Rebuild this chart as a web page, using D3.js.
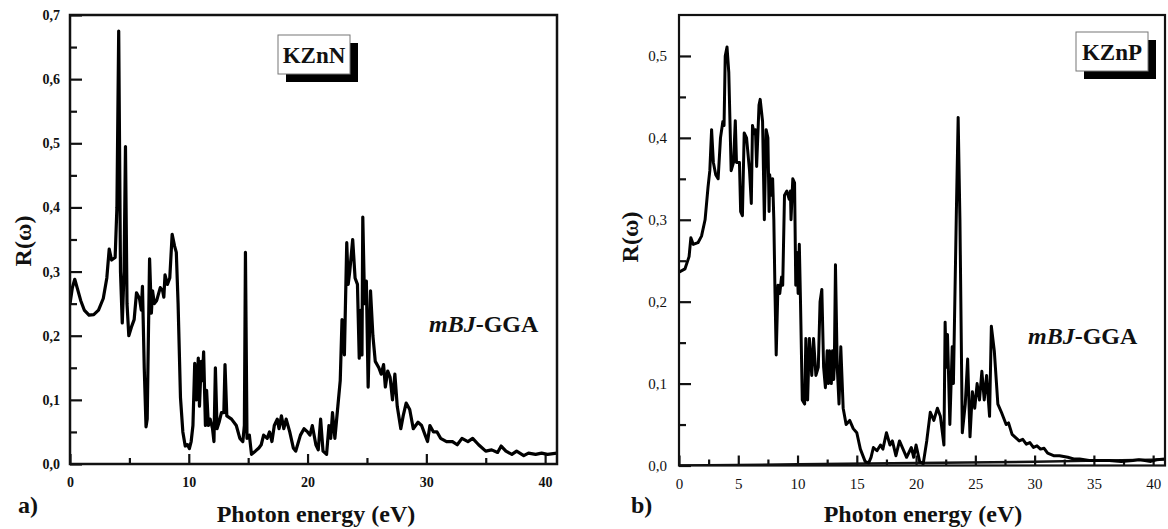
<!DOCTYPE html>
<html lang="en">
  <head>
    <meta charset="utf-8">
    <title>Reflectivity KZnN / KZnP</title>
    <script src="https://d3js.org/d3.v7.js"></script>
    <style>
      body { margin: 0; background: #fff; }
      svg text { font-family: "Liberation Serif", "Times New Roman", serif; fill: #111; }
    </style>
  </head>
  <body>
    <script>

  // ---- data ----
  // a) KZnN, mBJ-GGA
  var kznnE = [0,0.2,0.4,0.6,0.9,1.2,1.6,2.0,2.4,2.8,3.1,3.3,3.5,3.8,3.95,4.1,4.25,4.4,4.55,4.67,4.8,4.95,5.2,5.4,5.6,5.85,6.0,6.1,6.25,6.4,6.5,6.6,6.7,6.85,6.95,7.1,7.3,7.6,7.8,7.9,8.0,8.2,8.4,8.6,8.8,8.95,9.1,9.3,9.5,9.7,9.9,10.05,10.2,10.35,10.5,10.65,10.8,10.9,11.05,11.15,11.25,11.4,11.5,11.65,11.8,12.0,12.12,12.24,12.38,12.55,12.75,12.95,13.05,13.2,13.6,14.0,14.3,14.55,14.68,14.77,14.9,15.1,15.28,15.6,15.9,16.1,16.3,16.6,16.8,17.0,17.2,17.45,17.6,17.8,18.0,18.2,18.5,18.8,19.0,19.4,19.7,20.0,20.2,20.4,20.7,20.9,21.1,21.3,21.6,21.8,21.95,22.1,22.3,22.55,22.75,22.9,23.1,23.3,23.42,23.55,23.65,23.8,24.0,24.2,24.35,24.5,24.58,24.65,24.8,24.95,25.1,25.3,25.5,25.7,26.0,26.2,26.4,26.55,26.75,26.95,27.15,27.35,27.55,27.85,28.05,28.3,28.6,28.9,29.3,29.6,29.9,30.1,30.3,30.6,30.9,31.2,31.7,32.2,32.6,33.0,33.5,33.9,34.4,35.0,35.5,36.0,36.3,36.7,37.2,37.6,38.2,38.6,39.2,39.7,40.2,41];
  var kznnR = [0.25,0.275,0.288,0.275,0.255,0.24,0.232,0.233,0.24,0.258,0.29,0.335,0.318,0.322,0.4,0.675,0.3,0.22,0.3,0.495,0.25,0.2,0.215,0.225,0.267,0.258,0.24,0.277,0.15,0.058,0.07,0.2,0.32,0.235,0.27,0.25,0.255,0.275,0.27,0.26,0.295,0.28,0.29,0.358,0.34,0.33,0.25,0.104,0.05,0.028,0.03,0.024,0.035,0.06,0.157,0.1,0.165,0.09,0.16,0.13,0.175,0.06,0.115,0.06,0.07,0.055,0.035,0.15,0.055,0.065,0.08,0.08,0.155,0.075,0.07,0.06,0.04,0.035,0.06,0.33,0.04,0.045,0.015,0.02,0.025,0.03,0.045,0.04,0.05,0.035,0.06,0.07,0.055,0.075,0.055,0.07,0.05,0.025,0.02,0.045,0.055,0.05,0.045,0.06,0.03,0.022,0.07,0.02,0.015,0.06,0.04,0.08,0.04,0.09,0.13,0.225,0.17,0.345,0.28,0.3,0.32,0.35,0.29,0.28,0.165,0.24,0.17,0.385,0.25,0.285,0.12,0.27,0.2,0.16,0.15,0.14,0.155,0.12,0.145,0.135,0.1,0.14,0.09,0.055,0.075,0.095,0.085,0.055,0.065,0.06,0.045,0.035,0.06,0.05,0.05,0.04,0.035,0.035,0.03,0.04,0.035,0.04,0.03,0.02,0.022,0.018,0.028,0.02,0.015,0.02,0.013,0.017,0.015,0.017,0.015,0.017];

  // b) KZnP, mBJ-GGA
  var kznpE = [0,0.5,0.85,1.0,1.2,1.6,1.9,2.2,2.45,2.6,2.75,2.9,3.1,3.3,3.5,3.7,3.8,3.9,4.05,4.2,4.4,4.6,4.75,4.85,5.1,5.2,5.35,5.5,5.7,5.95,6.1,6.2,6.35,6.45,6.55,6.75,6.85,7.05,7.2,7.35,7.5,7.6,7.65,7.8,7.9,8.0,8.1,8.2,8.35,8.5,8.65,8.75,8.9,9.1,9.3,9.4,9.45,9.6,9.75,9.85,9.95,10.05,10.15,10.25,10.4,10.6,10.7,10.85,11.0,11.2,11.35,11.55,11.75,11.9,12.05,12.2,12.35,12.5,12.6,12.7,12.85,12.95,13.05,13.1,13.2,13.35,13.5,13.65,13.85,14.1,14.4,14.7,15.0,15.3,15.7,16.0,16.2,16.4,16.7,17.0,17.2,17.5,17.8,18.0,18.3,18.6,18.9,19.2,19.6,19.8,20.0,20.3,20.6,20.9,21.2,21.5,21.8,22.05,22.35,22.45,22.55,22.65,22.85,23.05,23.15,23.4,23.55,23.7,23.9,24.15,24.35,24.55,24.75,24.95,25.15,25.35,25.55,25.75,25.95,26.2,26.35,26.6,26.9,27.2,27.6,27.8,28.1,28.4,28.7,29.0,29.3,29.6,29.9,30.2,30.5,30.8,31.1,31.6,32.1,32.8,33.3,33.8,34.6,35.3,36.3,37.3,38.3,38.8,39.3,39.8,40.3,41];
  var kznpR = [0.236,0.24,0.255,0.278,0.27,0.272,0.28,0.3,0.34,0.36,0.41,0.37,0.355,0.35,0.4,0.42,0.415,0.5,0.511,0.48,0.36,0.37,0.421,0.37,0.37,0.31,0.305,0.406,0.4,0.36,0.32,0.415,0.405,0.41,0.365,0.44,0.447,0.42,0.3,0.41,0.4,0.31,0.355,0.33,0.35,0.3,0.21,0.135,0.22,0.21,0.23,0.22,0.33,0.335,0.325,0.335,0.3,0.35,0.345,0.22,0.26,0.21,0.27,0.2,0.08,0.075,0.155,0.08,0.155,0.11,0.155,0.11,0.12,0.2,0.215,0.12,0.095,0.14,0.1,0.14,0.1,0.14,0.105,0.12,0.245,0.12,0.075,0.145,0.07,0.05,0.055,0.045,0.04,0.02,0.005,0.003,0.01,0.022,0.018,0.025,0.02,0.04,0.025,0.03,0.012,0.03,0.02,0.01,0.022,0.01,0.025,0.005,0.002,0.03,0.065,0.055,0.07,0.06,0.025,0.175,0.12,0.16,0.05,0.145,0.1,0.31,0.425,0.3,0.04,0.075,0.13,0.035,0.09,0.07,0.1,0.08,0.115,0.08,0.11,0.06,0.17,0.14,0.075,0.065,0.05,0.052,0.038,0.034,0.03,0.032,0.026,0.028,0.022,0.024,0.02,0.021,0.015,0.012,0.012,0.01,0.008,0.008,0.006,0.006,0.006,0.005,0.006,0.007,0.006,0.005,0.007,0.008];
  // the second trace rising slowly along the bottom of panel b
  var baseE = [0, 10, 20, 30, 41];
  var baseR = [0, 0.0015, 0.003, 0.0045, 0.0075];

  var panels = [
    { E: kznnE, R: kznnR, yMax: 0.7, xMajor: 10, name: "KZnN", tag: "a)", bold: true,
      x0: 70, x1: 557, y0: 464, y1: 15, stroke: 3.2,
      box: [278, 35], lab: [429, 332], axT: [23, 241], xT: 316, tagX: 18 },
    { E: kznpE, R: kznpR, yMax: 0.55, xMajor: 5, name: "KZnP", tag: "b)", bold: false,
      x0: 679, x1: 1165, y0: 465.5, y1: 15, stroke: 3,
      box: [1076, 32], lab: [1028, 344], axT: [630, 237], xT: 923, tagX: 631,
      extra: { E: baseE, R: baseR } }
  ];

  var svg = d3.select("body")
    .append("svg")
    .attr("width", 1168)
    .attr("height", 529);

  var fmt = d => d3.format(".1f")(d).replace(".", ",");

  panels.forEach(function(p, pi) {
    var x = d3.scaleLinear().domain([0, 41]).range([p.x0, p.x1]);
    var y = d3.scaleLinear().domain([0, p.yMax]).range([p.y0, p.y1]);
    var g = svg.append("g");
    var fw = p.bold ? "bold" : "normal";
    var fs = p.bold ? 14 : 15;

    // minor ticks
    g.append("g")
      .attr("transform", `translate(0, ${p.y0})`)
      .call(d3.axisBottom(x).tickValues(d3.range(p.xMajor / 2, 41, p.xMajor)).tickSize(-6).tickFormat(""));
    g.append("g")
      .attr("transform", `translate(${p.x0}, 0)`)
      .call(d3.axisLeft(y).tickValues(d3.range(0.05, p.yMax, 0.1)).tickSize(-7).tickFormat(""));

    // major ticks with labels
    g.append("g")
      .attr("transform", `translate(0, ${p.y0})`)
      .call(d3.axisBottom(x).tickValues(d3.range(0, 41, p.xMajor)).tickSize(-10).tickPadding(13).tickFormat(d3.format("d")));
    g.append("g")
      .attr("transform", `translate(${p.x0}, 0)`)
      .call(d3.axisLeft(y).tickValues(d3.range(0, p.yMax + 0.001, 0.1)).tickSize(-12).tickPadding(p.bold ? 10 : 12).tickFormat(fmt));

    g.selectAll(".domain").remove();
    g.selectAll(".tick line").attr("stroke", "#111").attr("stroke-width", 2.2);
    g.selectAll(".tick text")
      .style("font-family", "'Liberation Serif', serif")
      .style("font-size", fs + "px")
      .style("font-weight", fw)
      .attr("fill", "#222");

    // clip for the traces
    svg.append("clipPath").attr("id", "clip" + pi)
      .append("rect")
      .attr("x", p.x0).attr("y", p.y1)
      .attr("width", p.x1 - p.x0).attr("height", p.y0 - p.y1);

    var line = d3.line()
      .x(d => x(d[0]))
      .y(d => y(d[1]));

    if (p.extra) {
      g.append("path")
        .datum(p.extra.E.map((e, i) => [e, p.extra.R[i]]))
        .attr("clip-path", `url(#clip${pi})`)
        .attr("fill", "none")
        .attr("stroke", "#111")
        .attr("stroke-width", 2.4)
        .attr("d", line);
    }

    g.append("path")
      .datum(p.E.map((e, i) => [e, p.R[i]]))
      .attr("clip-path", `url(#clip${pi})`)
      .attr("fill", "none")
      .attr("stroke", "#000")
      .attr("stroke-width", p.stroke)
      .attr("stroke-linejoin", "round")
      .attr("d", line);

    // frame
    g.append("rect")
      .attr("x", p.x0).attr("y", p.y1)
      .attr("width", p.x1 - p.x0).attr("height", p.y0 - p.y1)
      .attr("fill", "none")
      .attr("stroke", "#111")
      .attr("stroke-width", p.bold ? 2.5 : 2.2);

    // compound label box with drop shadow
    g.append("rect")
      .attr("x", p.box[0] + 8).attr("y", p.box[1] + 8)
      .attr("width", 72).attr("height", 39)
      .attr("fill", "#000");
    g.append("rect")
      .attr("x", p.box[0]).attr("y", p.box[1])
      .attr("width", 72).attr("height", 39)
      .attr("fill", "#fff")
      .attr("stroke", "#777")
      .attr("stroke-width", 1);
    g.append("text")
      .attr("x", p.box[0] + 36).attr("y", p.box[1] + 28)
      .attr("text-anchor", "middle")
      .style("font-size", "23px")
      .style("font-weight", "bold")
      .text(p.name);

    // method label
    var t = g.append("text")
      .attr("x", p.lab[0]).attr("y", p.lab[1])
      .style("font-size", "24px")
      .style("font-weight", "bold");
    t.append("tspan").style("font-style", "italic").text("mBJ");
    t.append("tspan").text("-GGA");

    // axis titles
    g.append("text")
      .attr("transform", `translate(${p.axT[0] + 8}, ${p.axT[1]}) rotate(-90)`)
      .attr("text-anchor", "middle")
      .style("font-size", "24px")
      .style("font-weight", "bold")
      .text("R(ω)");
    g.append("text")
      .attr("x", p.xT).attr("y", 522)
      .attr("text-anchor", "middle")
      .style("font-size", "24px")
      .style("font-weight", "bold")
      .text("Photon energy (eV)");
    g.append("text")
      .attr("x", p.tagX).attr("y", 513)
      .style("font-size", "24px")
      .style("font-weight", "bold")
      .text(p.tag);
  });

    </script>
  </body>
</html>
